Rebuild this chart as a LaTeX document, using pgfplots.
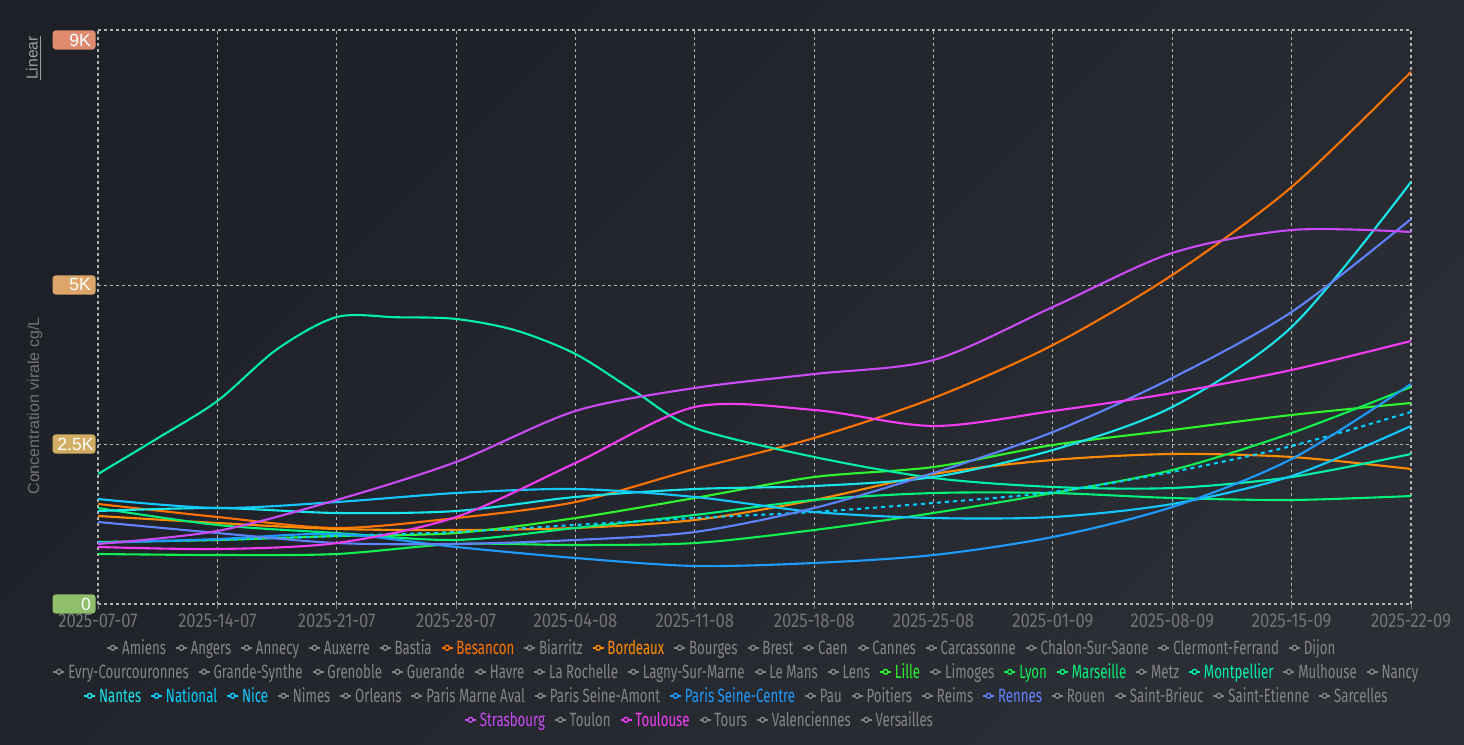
\documentclass[border=0pt]{standalone}
\usepackage{fontspec}
\setmainfont{Liberation Sans}
\newfontfamily\condfont[FakeStretch=0.69]{Fira Sans}
\newfontfamily\tickfont[FakeStretch=0.83]{Fira Sans}
\usepackage{pgfplots}
\pgfplotsset{compat=1.18}

\definecolor{bgA}{HTML}{1D2027}
\definecolor{bgB}{HTML}{2B2E34}
\definecolor{gridc}{HTML}{B4B4B4}
\definecolor{tickc}{HTML}{747474}
\definecolor{legc}{HTML}{858585}
\definecolor{cBes}{HTML}{FF7300}
\definecolor{cBor}{HTML}{FF8C00}
\definecolor{cLil}{HTML}{2EF52E}
\definecolor{cLyo}{HTML}{10F050}
\definecolor{cMar}{HTML}{00F07A}
\definecolor{cMon}{HTML}{00F0A8}
\definecolor{cNan}{HTML}{19E6EB}
\definecolor{cNat}{HTML}{00CFFF}
\definecolor{cNic}{HTML}{14C8FF}
\definecolor{cPar}{HTML}{1E9BFF}
\definecolor{cRen}{HTML}{5F82FF}
\definecolor{cStr}{HTML}{C84BF5}
\definecolor{cTou}{HTML}{F53CF5}
\definecolor{bx9}{HTML}{DE8B6F}
\definecolor{bx5}{HTML}{DCA66A}
\definecolor{bx25}{HTML}{D2AE64}
\definecolor{bx0}{HTML}{8FBF6A}

\newcommand{\LI}[1]{\tikz[baseline={(0,-3.1bp)}]{\draw[#1,line width=0.7bp] (0,0)--(5.5bp,0); \draw[#1,line width=0.7bp,fill=bgA] (2.75bp,0) circle (1.2bp);}}
\newcommand{\LE}[2]{\LI{#1}\hspace{1.6bp}\textcolor{#1}{#2}\hspace{4.6bp}}

\begin{document}
\begin{tikzpicture}
\shade[top color=bgA, bottom color=bgB, shading angle=45] (-49bp,-70.5bp) rectangle (683bp,302bp);
\begin{axis}[
  at={(0,0)}, anchor=south west,
  scale only axis, width=656.5bp, height=287bp,
  xmin=0, xmax=11, ymin=0, ymax=9000,
  axis line style={draw=none},
  xtick={0,...,11},
  xticklabels={2025-07-07,2025-14-07,2025-21-07,2025-28-07,2025-04-08,2025-11-08,2025-18-08,2025-25-08,2025-01-09,2025-08-09,2025-15-09,2025-22-09},
  ytick={0,2500,5000,9000},
  yticklabels={},
  grid=major,
  major grid style={gridc, dash pattern=on 1.6bp off 1.4bp, line width=0.55bp},
  tick align=outside,
  xtick pos=bottom,
  major tick length=2.5bp,
  xtick style={tickc, line width=0.5bp},
  ytick style={draw=none},
  x tick label style={font=\tickfont\fontsize{10bp}{11bp}\selectfont, text=tickc, yshift=1bp},
  every axis plot/.append style={line width=1.05bp, smooth},
]
\addplot[cBes] coordinates {(0,1568)(1,1364)(2,1192)(3,1348)(4,1599)(5,2117)(6,2603)(7,3230)(8,4061)(9,5159)(10,6539)(11,8342)};
\addplot[cBor] coordinates {(0,1380)(1,1270)(2,1176)(3,1160)(4,1192)(5,1317)(6,1631)(7,2038)(8,2258)(9,2352)(10,2305)(11,2117)};
\addplot[cLil] coordinates {(0,972)(1,1004)(2,1066)(3,1113)(4,1348)(5,1662)(6,1991)(7,2148)(8,2493)(9,2728)(10,2964)(11,3152)};
\addplot[cLyo] coordinates {(0,784)(1,768)(2,784)(3,941)(4,925)(5,956)(6,1160)(7,1427)(8,1740)(9,2101)(10,2681)(11,3403)};
\addplot[cMar] coordinates {(0,1505)(1,1239)(2,1113)(3,1004)(4,1192)(5,1396)(6,1631)(7,1740)(8,1740)(9,1662)(10,1631)(11,1693)};
\addplot[cMon] coordinates {(0,2038)(0.5,2600)(1,3183)(1.5,3995)(2,4500)(2.5,4496)(3,4469)(3.5,4290)(4,3920)(4.5,3330)(5,2760)(6,2305)(7,1976)(8,1835)(9,1819)(10,1991)(11,2352)};
\addplot[cNan] coordinates {(0,1458)(1,1505)(2,1427)(3,1458)(4,1678)(5,1803)(6,1850)(7,1991)(8,2415)(9,3089)(10,4343)(11,6617)};
\addplot[cNat, dash pattern=on 2bp off 2bp] coordinates {(0,972)(1,1004)(2,1066)(3,1129)(4,1239)(5,1348)(6,1443)(7,1584)(8,1756)(9,2070)(10,2477)(11,3011)};
\addplot[cNic] coordinates {(0,1646)(1,1505)(2,1599)(3,1740)(4,1803)(5,1678)(6,1443)(7,1348)(8,1364)(9,1568)(10,2007)(11,2791)};
\addplot[cPar] coordinates {(0,956)(1,1019)(2,1098)(3,894)(4,721)(5,596)(6,643)(7,768)(8,1051)(9,1521)(10,2274)(11,3450)};
\addplot[cRen] coordinates {(0,1286)(1,1113)(2,956)(3,941)(4,1004)(5,1129)(6,1505)(7,2054)(8,2697)(9,3544)(10,4579)(11,6037)};
\addplot[cStr] coordinates {(0,941)(1,1145)(2,1631)(3,2227)(4,3026)(5,3387)(6,3606)(7,3826)(8,4657)(9,5504)(10,5864)(11,5833)};
\addplot[cTou] coordinates {(0,894)(1,862)(2,956)(3,1364)(4,2211)(5,3089)(6,3042)(7,2791)(8,3026)(9,3308)(10,3669)(11,4124)};
\end{axis}
% y tick label boxes
\tikzset{ybox/.style={anchor=east, rounded corners=1.6bp, text=white, inner xsep=2.4bp, inner ysep=0pt, text width=16.7bp, align=right, minimum height=9.6bp, font=\fontsize{8.8bp}{9bp}\selectfont}}
\node[ybox, fill=bx9] at (-1bp,282bp) {9K};
\node[ybox, fill=bx5] at (-1bp,159.5bp) {5K};
\node[ybox, fill=bx25] at (-1bp,80bp) {2.5K};
\node[ybox, fill=bx0] at (-1bp,0bp) {0};
% axis title and scale switch
\node[rotate=90, text=tickc, font=\fontsize{8bp}{9bp}\selectfont, inner sep=0pt] at (-31.5bp,99bp) {Concentration virale cg/L};
\node[rotate=90, text=white!62!black, font=\fontsize{7.9bp}{9bp}\selectfont, inner sep=0pt] at (-32bp,273bp) {\underline{Linear}};
% legend
\tikzset{legrow/.style={anchor=base, inner sep=0pt, text=legc, font=\condfont\fontsize{9.6bp}{10bp}\selectfont}}
\node[legrow] at (311.5bp,-25bp) {\LE{legc}{Amiens}\LE{legc}{Angers}\LE{legc}{Annecy}\LE{legc}{Auxerre}\LE{legc}{Bastia}\LE{cBes}{Besancon}\LE{legc}{Biarritz}\LE{cBor}{Bordeaux}\LE{legc}{Bourges}\LE{legc}{Brest}\LE{legc}{Caen}\LE{legc}{Cannes}\LE{legc}{Carcassonne}\LE{legc}{Chalon-Sur-Saone}\LE{legc}{Clermont-Ferrand}\LE{legc}{Dijon}};
\node[legrow] at (318.8bp,-37bp) {\LE{legc}{Evry-Courcouronnes}\LE{legc}{Grande-Synthe}\LE{legc}{Grenoble}\LE{legc}{Guerande}\LE{legc}{Havre}\LE{legc}{La Rochelle}\LE{legc}{Lagny-Sur-Marne}\LE{legc}{Le Mans}\LE{legc}{Lens}\LE{cLil}{Lille}\LE{legc}{Limoges}\LE{cLyo}{Lyon}\LE{cMar}{Marseille}\LE{legc}{Metz}\LE{cMon}{Montpellier}\LE{legc}{Mulhouse}\LE{legc}{Nancy}};
\node[legrow] at (318.8bp,-49bp) {\LE{cNan}{Nantes}\LE{cNat}{National}\LE{cNic}{Nice}\LE{legc}{Nimes}\LE{legc}{Orleans}\LE{legc}{Paris Marne Aval}\LE{legc}{Paris Seine-Amont}\LE{cPar}{Paris Seine-Centre}\LE{legc}{Pau}\LE{legc}{Poitiers}\LE{legc}{Reims}\LE{cRen}{Rennes}\LE{legc}{Rouen}\LE{legc}{Saint-Brieuc}\LE{legc}{Saint-Etienne}\LE{legc}{Sarcelles}};
\node[legrow] at (300.3bp,-61bp) {\LE{cStr}{Strasbourg}\LE{legc}{Toulon}\LE{cTou}{Toulouse}\LE{legc}{Tours}\LE{legc}{Valenciennes}\LE{legc}{Versailles}};
\pgfresetboundingbox
\useasboundingbox (-49bp,-70.5bp) rectangle (683bp,302bp);
\end{tikzpicture}
\end{document}
